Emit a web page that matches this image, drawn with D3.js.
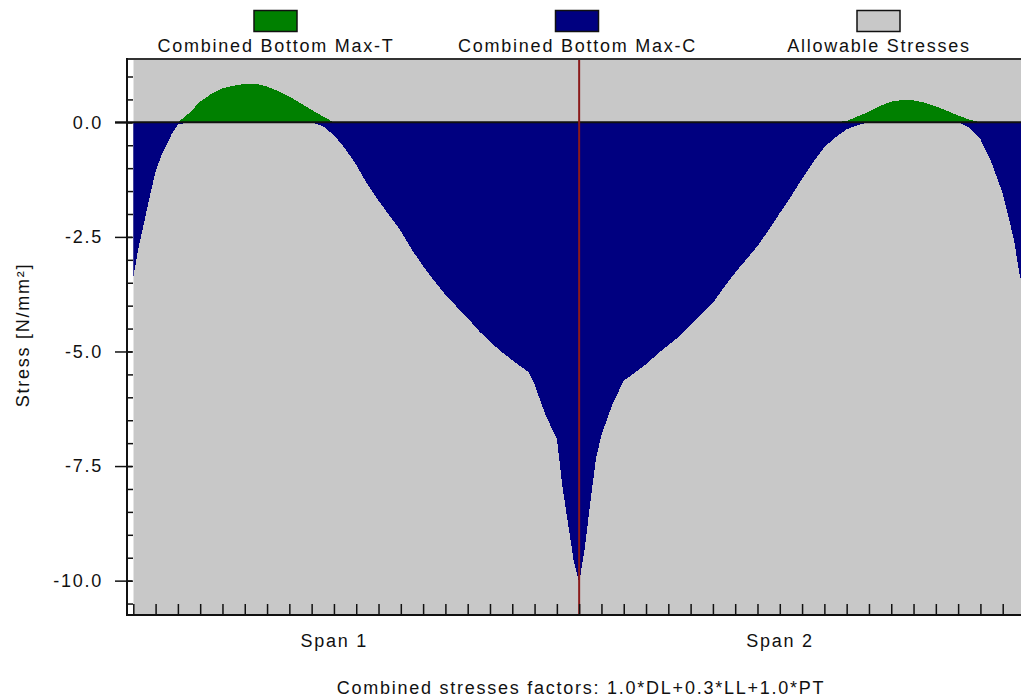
<!DOCTYPE html>
<html>
<head>
<meta charset="utf-8">
<script src="https://cdn.jsdelivr.net/npm/d3@7/dist/d3.min.js"></script>
<style>
  body { margin: 0; background: #fff; }
  svg text {
    font-family: "Liberation Sans", Arial, sans-serif;
    font-size: 18px;
    letter-spacing: 1.75px;
    fill: #111;
  }
</style>
</head>
<body>
<svg id="chart" width="1021" height="700"></svg>
<script>
// Stations along the beam, in tick units: 0..20 is span 1, 20..40 is span 2
const stations = [
  0, 0.25, 0.5, 0.75, 1, 1.25, 1.5, 1.75, 2,
  2.5, 3, 3.5, 4, 4.5, 5, 5.5, 6, 6.5, 7, 7.5, 8, 8.5, 9, 9.5,
  10, 10.5, 11, 11.5, 12, 12.5, 13, 13.5, 14, 14.5, 15, 15.5, 16, 16.5, 17, 17.5,
  17.75, 18, 18.5, 19, 19.25, 19.5, 19.75, 20, 20.25, 20.5, 20.75, 21,
  21.5, 22, 22.5, 23, 23.5, 24, 24.5, 25, 25.5, 26, 26.5, 27, 27.5, 28, 28.5, 29,
  29.5, 30, 30.5, 31, 31.5, 32, 32.5, 33, 33.5, 34, 34.5, 35, 35.5, 36, 36.5, 37,
  37.5, 38, 38.5, 39, 39.25, 39.5, 39.75, 40
];

// Combined Bottom Max-C  [N/mm2]
const maxC = [
  -3.37, -2.7, -2.15, -1.6, -1.07, -0.74, -0.48, -0.23, -0.05,
  0, 0, 0, 0, 0, 0, 0, 0, 0, 0, 0, 0, -0.08, -0.28, -0.57,
  -0.93, -1.35, -1.71, -2.04, -2.37, -2.78, -3.14, -3.46, -3.76, -4.02, -4.27, -4.55, -4.79, -5.0, -5.19, -5.37,
  -5.46, -5.72, -6.4, -6.9, -7.95, -8.75, -9.55, -10.05, -9.3, -8.3, -7.35, -6.82,
  -6.14, -5.64, -5.46, -5.28, -5.06, -4.86, -4.67, -4.43, -4.18, -3.94, -3.6, -3.28, -2.99, -2.7, -2.35, -1.98,
  -1.62, -1.23, -0.87, -0.54, -0.33, -0.15, -0.06, 0, 0, 0, 0, 0, 0, 0, 0, 0,
  -0.11, -0.37, -0.88, -1.55, -2.05, -2.55, -3.3, -3.8
];

// Combined Bottom Max-T  [N/mm2]
const maxT = [
  0, 0, 0, 0, 0, 0, 0, 0, 0,
  0.2, 0.45, 0.62, 0.74, 0.8, 0.84, 0.84, 0.78, 0.68, 0.56, 0.42, 0.27, 0.13, 0, 0,
  0, 0, 0, 0, 0, 0, 0, 0, 0, 0, 0, 0, 0, 0, 0, 0,
  0, 0, 0, 0, 0, 0, 0, 0, 0, 0, 0, 0,
  0, 0, 0, 0, 0, 0, 0, 0, 0, 0, 0, 0, 0, 0, 0, 0,
  0, 0, 0, 0, 0, 0.03, 0.13, 0.23, 0.36, 0.45, 0.49, 0.48, 0.43, 0.35, 0.25, 0.15,
  0.06, 0, 0, 0, 0, 0, 0, 0
];

const yTickValues = [0, -2.5, -5, -7.5, -10];
const yTickLabels = ["0.0", "-2.5", "-5.0", "-7.5", "-10.0"];
const spanNames = ["Span 1", "Span 2"];
const spanMids = [10, 30];
const legendNames = ["Combined Bottom Max-T", "Combined Bottom Max-C", "Allowable Stresses"];
const legendColors = ["#008000", "#000080", "#c8c8c8"];

const svg = d3.select("#chart");

// plot box in pixels
const plot = { left: 127, dataLeft: 133.3, right: 1025, top: 60, bottom: 615 };

const x = d3.scaleLinear().domain([0, 40]).range([plot.dataLeft, plot.right]);
const y = d3.scaleLinear().domain([-10.75, 1.36]).range([plot.bottom, plot.top]);

svg.append("clipPath").attr("id", "clip")
  .append("rect")
  .attr("x", plot.dataLeft).attr("y", plot.top)
  .attr("width", plot.right - plot.dataLeft).attr("height", plot.bottom - plot.top);

const data = stations.map((s, i) => ({ s: s, c: maxC[i], t: maxT[i] }));

// Allowable stresses fill the whole visible range
const art = svg.append("g").attr("clip-path", "url(#clip)");
art.append("rect")
  .attr("x", plot.dataLeft).attr("y", y(y.domain()[1]))
  .attr("width", plot.right - plot.dataLeft)
  .attr("height", y(y.domain()[0]) - y(y.domain()[1]))
  .attr("fill", legendColors[2]);

const areaT = d3.area().x(d => x(d.s)).y0(y(0)).y1(d => y(d.t));
const areaC = d3.area().x(d => x(d.s)).y0(y(0)).y1(d => y(d.c));

art.append("path").datum(data).attr("d", areaT)
  .attr("fill", legendColors[0]).attr("shape-rendering", "crispEdges");
art.append("path").datum(data).attr("d", areaC)
  .attr("fill", legendColors[1]).attr("shape-rendering", "crispEdges");

// zero line
svg.append("line")
  .attr("x1", 115).attr("x2", 1021)
  .attr("y1", y(0)).attr("y2", y(0))
  .attr("stroke", "#111").attr("stroke-width", 2);

// support line between the spans
svg.append("line")
  .attr("x1", x(20)).attr("x2", x(20))
  .attr("y1", plot.top).attr("y2", plot.bottom)
  .attr("stroke", "#8b1a1a").attr("stroke-width", 2);

// y axis: minor ticks point in, major ticks cross the axis
const minorY = d3.range(1, -10.75, -0.5);
svg.append("g")
  .attr("transform", "translate(" + plot.left + ",0)")
  .call(d3.axisLeft(y).tickValues(minorY).tickSize(-6).tickFormat(""))
  .call(g => g.select(".domain").remove())
  .selectAll("line").attr("stroke", "#111").attr("stroke-width", 1.5);

const yAxis = svg.append("g")
  .attr("transform", "translate(" + plot.left + ",0)")
  .call(d3.axisLeft(y).tickValues(yTickValues).tickSize(12).tickPadding(12)
    .tickFormat((d, i) => yTickLabels[i]));
yAxis.select(".domain").remove();
yAxis.selectAll("line").attr("x1", 5).attr("stroke", "#111").attr("stroke-width", 1.5);
yAxis.attr("font-size", null).attr("font-family", null);

// x axis ticks, pointing up into the plot
const xAxis = svg.append("g")
  .attr("transform", "translate(0," + plot.bottom + ")")
  .call(d3.axisBottom(x).tickValues(d3.range(0, 41)).tickSize(-11).tickFormat(""));
xAxis.select(".domain").remove();
xAxis.selectAll("line").attr("stroke", "#111").attr("stroke-width", 1.5);

// frame
svg.append("line").attr("x1", plot.left).attr("x2", 1021)
  .attr("y1", plot.top - 1).attr("y2", plot.top - 1)
  .attr("stroke", "#333").attr("stroke-width", 2);
svg.append("line").attr("x1", plot.left).attr("x2", plot.left)
  .attr("y1", plot.top - 2).attr("y2", plot.bottom + 1)
  .attr("stroke", "#111").attr("stroke-width", 2);
svg.append("line").attr("x1", plot.left).attr("x2", 1021)
  .attr("y1", plot.bottom).attr("y2", plot.bottom)
  .attr("stroke", "#111").attr("stroke-width", 2);

// span labels
svg.selectAll(".span-label")
  .data(spanNames)
  .enter().append("text")
  .attr("class", "span-label")
  .attr("x", (d, i) => x(spanMids[i]) - 22)
  .attr("y", 647)
  .attr("text-anchor", "middle")
  .text(d => d);

// axis title
svg.append("text")
  .attr("transform", "translate(29,335) rotate(-90)")
  .attr("text-anchor", "middle")
  .text("Stress [N/mm²]");

svg.append("text")
  .attr("x", 581).attr("y", 694)
  .attr("text-anchor", "middle")
  .text("Combined stresses factors: 1.0*DL+0.3*LL+1.0*PT");

// legend
const legend = svg.selectAll(".legend")
  .data(legendNames)
  .enter().append("g")
  .attr("class", "legend")
  .attr("transform", (d, i) => "translate(" + (276 + i * 301.5) + ",0)");
legend.append("rect")
  .attr("x", -22).attr("y", 10.5)
  .attr("width", 43).attr("height", 21)
  .attr("fill", (d, i) => legendColors[i])
  .attr("stroke", "#111").attr("stroke-width", 1.5);
legend.append("text")
  .attr("y", 52)
  .attr("text-anchor", "middle")
  .text(d => d);
</script>
</body>
</html>
